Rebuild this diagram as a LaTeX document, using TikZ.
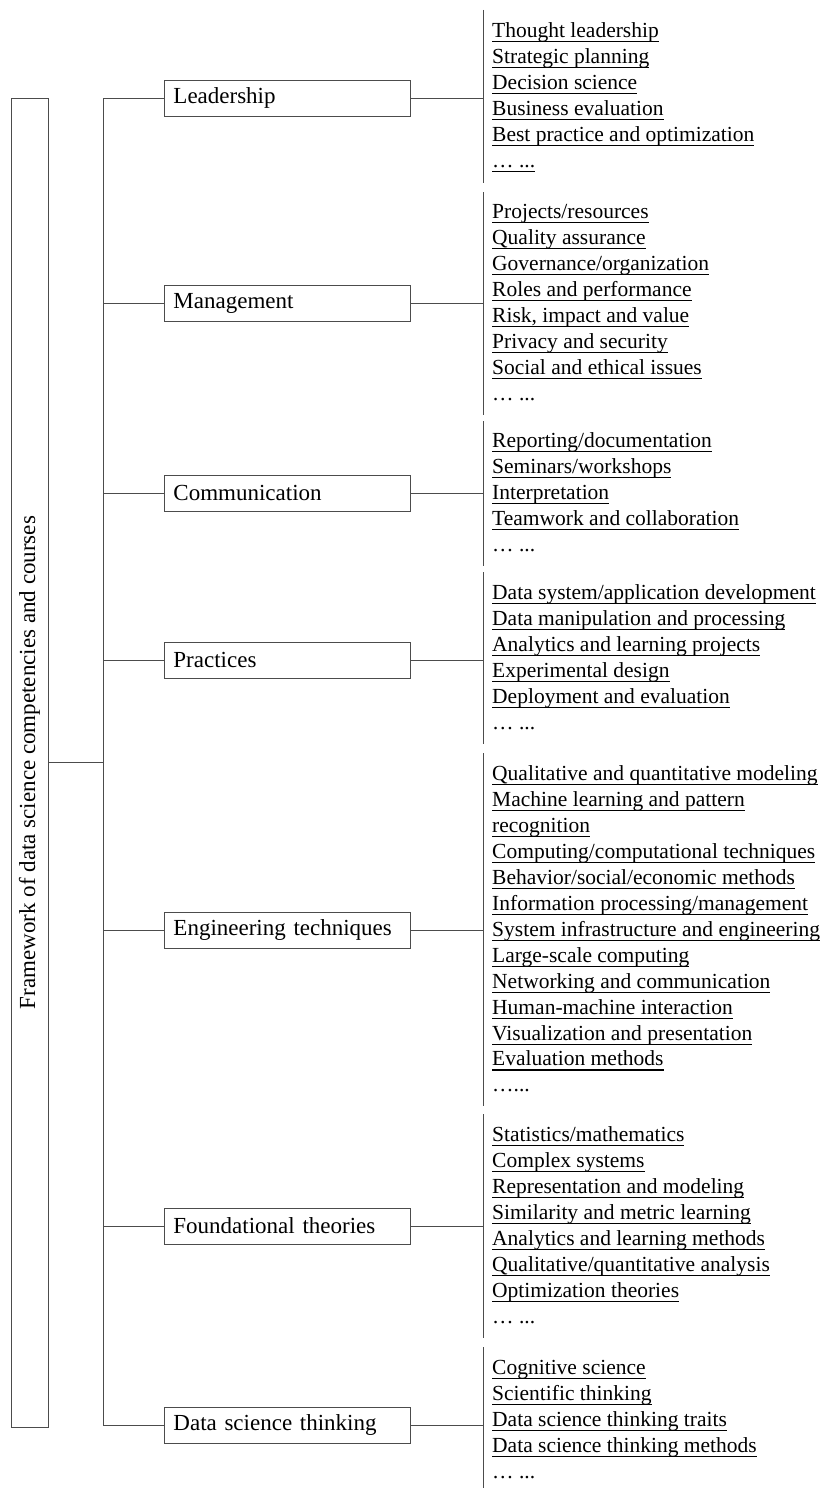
\documentclass[tikz,border=0pt]{standalone}
\usepackage{fontspec}
\setmainfont{Liberation Serif}
\newsavebox{\ulbox}
\newcommand{\uln}[1]{\sbox{\ulbox}{#1}\rlap{\rule[-4.6pt]{\wd\ulbox}{1.1pt}}\usebox{\ulbox}}
\tikzset{
  link/.style={draw=black!70, line width=0.9pt},
  catbox/.style={link, minimum width=246pt, minimum height=36pt, inner xsep=9pt, inner ysep=0pt,
    text width=228pt, align=left, anchor=west, font=\fontsize{23}{26}\selectfont},
  item/.style={anchor=base west, inner sep=0pt, font=\fontsize{21.5}{26}\selectfont}
}
\begin{document}
\begin{tikzpicture}[x=1pt, y=-1pt]
    \useasboundingbox (0,0) rectangle (822,1488);
    % title box and trunk
    \node [link, rotate=90, minimum width=1329pt, minimum height=37pt, inner sep=0pt,
      font=\fontsize{23}{26}\selectfont] (frame) at (29.5,762.5) {Framework of data science competencies and courses};
    \coordinate (trunk-top) at (103,98);
    \coordinate (trunk-bot) at (103,1425);
    \draw [link] (trunk-top) -- (trunk-bot);
    \draw [link] (frame.south) -- (frame.south -| trunk-top);
    % categories
    \node [catbox] (lead) at (164,98) {Leadership};
    \node [catbox] (mgmt) at (164,303) {Management};
    \node [catbox] (comm) at (164,493) {Communication};
    \node [catbox] (prac) at (164,660) {Practices};
    \node [catbox] (engi) at (164,930) {Engineering techniques};
    \node [catbox] (found) at (164,1226) {Foundational theories};
    \node [catbox] (think) at (164,1425) {Data science thinking};
    \foreach \c in {lead,mgmt,comm,prac,engi,found,think}
        \draw [link] (\c.west) -- (\c.west -| trunk-top);
    % list bars
    \foreach \c/\top/\bot in {lead/10/183, mgmt/192/415, comm/421/566, prac/572/744,
                              engi/753/1106, found/1114/1338, think/1347/1488} {
        \coordinate (\c-top) at (483,\top);
        \coordinate (\c-bot) at (483,\bot);
        \draw [link] (\c-top) -- (\c-bot);
        \draw [link] (\c.east) -- (\c.east -| \c-top);
    }
    % leadership
    \foreach \t [count=\i from 0] in {Thought leadership, Strategic planning, Decision science,
        Business evaluation, Best practice and optimization}
        \node [item] (lead-\i) at (492,37.5+25.95*\i) {\uln{\t}};
    \node [item] (lead-5) at (492,37.5+25.95*5) {\uln{… ...}};
    % management
    \foreach \t [count=\i from 0] in {Projects/resources, Quality assurance, Governance/organization,
        Roles and performance, {Risk, impact and value}, Privacy and security, Social and ethical issues}
        \node [item] (mgmt-\i) at (492,218.5+25.95*\i) {\uln{\t}};
    \node [item] (mgmt-7) at (492,218.5+25.95*7) {… ...};
    % communication
    \foreach \t [count=\i from 0] in {Reporting/documentation, Seminars/workshops, Interpretation,
        Teamwork and collaboration}
        \node [item] (comm-\i) at (492,447.5+25.95*\i) {\uln{\t}};
    \node [item] (comm-4) at (492,447.5+25.95*4) {… ...};
    % practices
    \foreach \t [count=\i from 0] in {Data system/application development, Data manipulation and processing,
        Analytics and learning projects, Experimental design, Deployment and evaluation}
        \node [item] (prac-\i) at (492,599.5+25.95*\i) {\uln{\t}};
    \node [item] (prac-5) at (492,599.5+25.95*5) {… ...};
    % engineering techniques
    \foreach \t [count=\i from 0] in {Qualitative and quantitative modeling, Machine learning and pattern,
        recognition, Computing/computational techniques, Behavior/social/economic methods,
        Information processing/management, System infrastructure and engineering,
        Large-scale computing, Networking and communication, Human-machine interaction,
        Visualization and presentation, Evaluation methods}
        \node [item] (engi-\i) at (492,780.5+25.95*\i) {\uln{\t}};
    \node [item] (engi-12) at (492,780.5+25.95*12) {…...};
    % foundational theories
    \foreach \t [count=\i from 0] in {Statistics/mathematics, Complex systems, Representation and modeling,
        Similarity and metric learning, Analytics and learning methods, Qualitative/quantitative analysis,
        Optimization theories}
        \node [item] (found-\i) at (492,1141.5+25.95*\i) {\uln{\t}};
    \node [item] (found-7) at (492,1141.5+25.95*7) {… ...};
    % data science thinking
    \foreach \t [count=\i from 0] in {Cognitive science, Scientific thinking, Data science thinking traits,
        Data science thinking methods}
        \node [item] (think-\i) at (492,1374.5+25.95*\i) {\uln{\t}};
    \node [item] (think-4) at (492,1374.5+25.95*4) {… ...};
\end{tikzpicture}
\end{document}
